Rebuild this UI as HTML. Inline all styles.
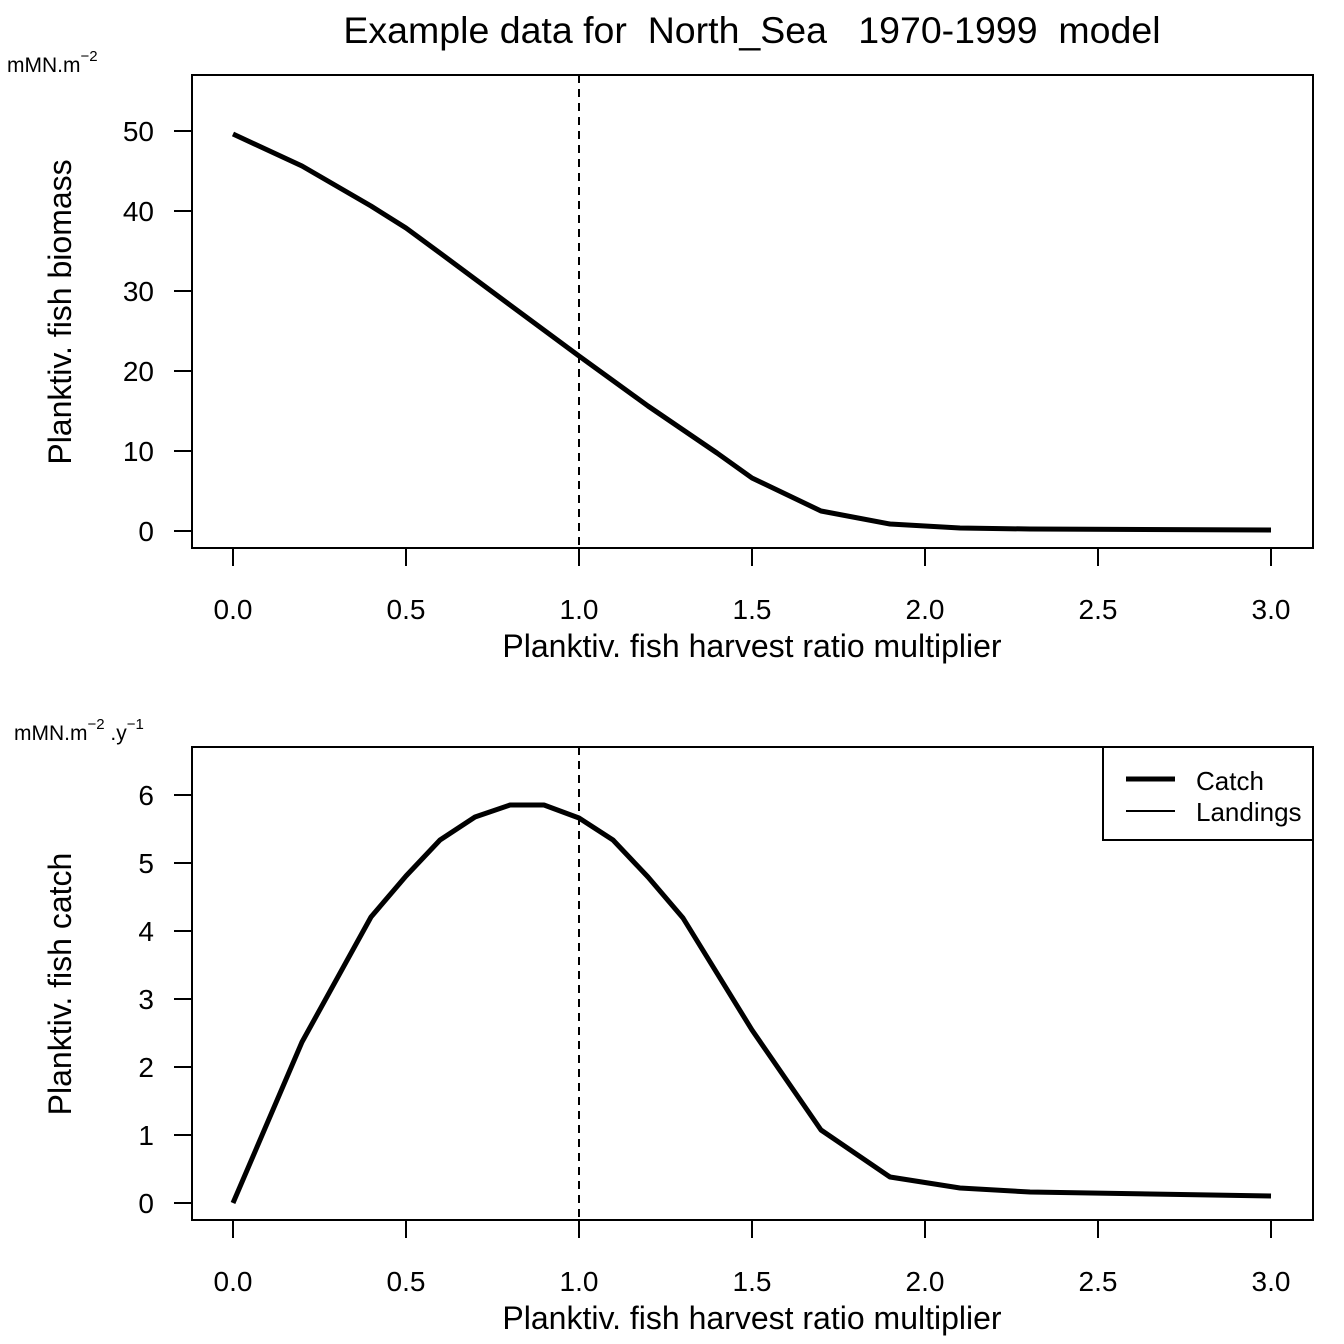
<!DOCTYPE html>
<html><head><meta charset="utf-8"><style>body{margin:0;background:#fff}svg{display:block}text{font-family:"Liberation Sans",Arial,sans-serif;fill:#000}</style></head>
<body>
<svg width="1344" height="1344" viewBox="0 0 1344 1344" xmlns="http://www.w3.org/2000/svg">
<text x="752" y="43" font-size="37.5" text-anchor="middle" xml:space="preserve">Example data for  North_Sea   1970-1999  model</text>
<!-- top plot -->
<rect x="192" y="75" width="1121" height="473" fill="none" stroke="#000" stroke-width="2"/>
<g stroke="#000" stroke-width="2">
<line x1="233" y1="548" x2="1271" y2="548"/>
<line x1="233" y1="548" x2="233" y2="566"/><line x1="406" y1="548" x2="406" y2="566"/><line x1="579" y1="548" x2="579" y2="566"/><line x1="752" y1="548" x2="752" y2="566"/><line x1="925" y1="548" x2="925" y2="566"/><line x1="1098" y1="548" x2="1098" y2="566"/><line x1="1271" y1="548" x2="1271" y2="566"/>
<line x1="192" y1="131" x2="192" y2="531"/>
<line x1="174" y1="131" x2="192" y2="131"/><line x1="174" y1="211" x2="192" y2="211"/><line x1="174" y1="291" x2="192" y2="291"/><line x1="174" y1="371" x2="192" y2="371"/><line x1="174" y1="451" x2="192" y2="451"/><line x1="174" y1="531" x2="192" y2="531"/>
</g>
<g font-size="28" text-anchor="middle">
<text x="233" y="619">0.0</text><text x="406" y="619">0.5</text><text x="579" y="619">1.0</text><text x="752" y="619">1.5</text><text x="925" y="619">2.0</text><text x="1098" y="619">2.5</text><text x="1271" y="619">3.0</text>
<text x="752" y="657" font-size="32">Planktiv. fish harvest ratio multiplier</text>
</g>
<g font-size="28" text-anchor="end">
<text x="154" y="141">50</text><text x="154" y="221">40</text><text x="154" y="301">30</text><text x="154" y="381">20</text><text x="154" y="461">10</text><text x="154" y="541">0</text>
</g>
<text transform="translate(71,312) rotate(-90)" font-size="32" text-anchor="middle">Planktiv. fish biomass</text>
<text x="7" y="72" font-size="21">mMN.m<tspan dy="-11" font-size="15">−2</tspan></text>
<line x1="579" y1="75" x2="579" y2="548" stroke="#000" stroke-width="2" stroke-dasharray="8,6"/>
<polyline fill="none" stroke="#000" stroke-width="5" stroke-linejoin="round" points="233,134 302,166 371,206 406,228 440,253 510,305 579,356 648,406 717,453 752,478 821,511 890,524 960,528 1030,529 1271,530"/>
<!-- bottom plot -->
<rect x="192" y="747" width="1121" height="473" fill="none" stroke="#000" stroke-width="2"/>
<g stroke="#000" stroke-width="2">
<line x1="233" y1="1220" x2="1271" y2="1220"/>
<line x1="233" y1="1220" x2="233" y2="1238"/><line x1="406" y1="1220" x2="406" y2="1238"/><line x1="579" y1="1220" x2="579" y2="1238"/><line x1="752" y1="1220" x2="752" y2="1238"/><line x1="925" y1="1220" x2="925" y2="1238"/><line x1="1098" y1="1220" x2="1098" y2="1238"/><line x1="1271" y1="1220" x2="1271" y2="1238"/>
<line x1="192" y1="795" x2="192" y2="1203"/>
<line x1="174" y1="795" x2="192" y2="795"/><line x1="174" y1="863" x2="192" y2="863"/><line x1="174" y1="931" x2="192" y2="931"/><line x1="174" y1="999" x2="192" y2="999"/><line x1="174" y1="1067" x2="192" y2="1067"/><line x1="174" y1="1135" x2="192" y2="1135"/><line x1="174" y1="1203" x2="192" y2="1203"/>
</g>
<g font-size="28" text-anchor="middle">
<text x="233" y="1291">0.0</text><text x="406" y="1291">0.5</text><text x="579" y="1291">1.0</text><text x="752" y="1291">1.5</text><text x="925" y="1291">2.0</text><text x="1098" y="1291">2.5</text><text x="1271" y="1291">3.0</text>
<text x="752" y="1329" font-size="32">Planktiv. fish harvest ratio multiplier</text>
</g>
<g font-size="28" text-anchor="end">
<text x="154" y="805">6</text><text x="154" y="873">5</text><text x="154" y="941">4</text><text x="154" y="1009">3</text><text x="154" y="1077">2</text><text x="154" y="1145">1</text><text x="154" y="1213">0</text>
</g>
<text transform="translate(71,984) rotate(-90)" font-size="32" text-anchor="middle">Planktiv. fish catch</text>
<text x="14" y="740" font-size="21">mMN.m<tspan dy="-11" font-size="15">−2</tspan><tspan dy="11"> .y</tspan><tspan dy="-11" font-size="15">−1</tspan></text>
<line x1="579" y1="747" x2="579" y2="1220" stroke="#000" stroke-width="2" stroke-dasharray="8,6"/>
<polyline fill="none" stroke="#000" stroke-width="5" stroke-linejoin="round" points="233,1203 302,1042 371,917 406,876 440,840 475,817 510,805 544,805 579,818 613,840 648,877 683,918 752,1030 821,1130 890,1177 960,1188 1030,1192 1271,1196"/>
<rect x="1103" y="747" width="210" height="93" fill="#fff" stroke="#000" stroke-width="2"/>
<line x1="1126" y1="779" x2="1175" y2="779" stroke="#000" stroke-width="5"/>
<line x1="1126" y1="811" x2="1175" y2="811" stroke="#000" stroke-width="2"/>
<text x="1196" y="790" font-size="26">Catch</text>
<text x="1196" y="821" font-size="26">Landings</text>
</svg>
</body></html>
